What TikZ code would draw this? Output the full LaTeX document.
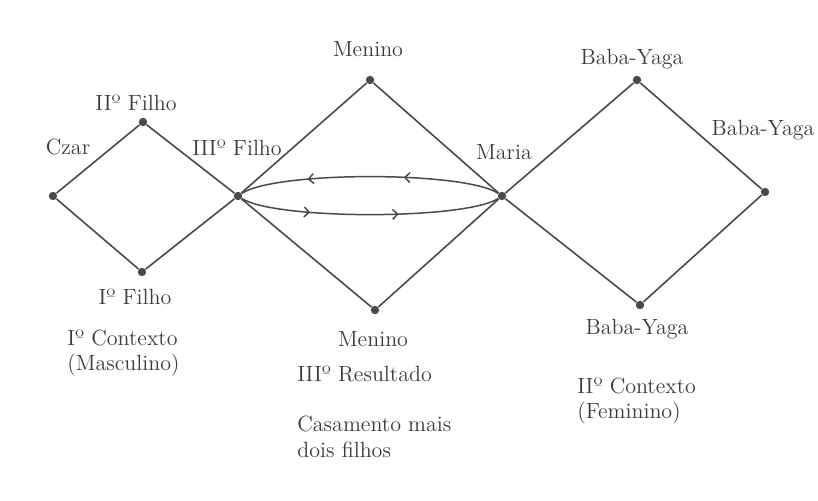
\documentclass[tikz,border=0pt]{standalone}
\usepackage{fontspec}
\usepackage{xcolor}
\usepackage{tikz}
\usetikzlibrary{arrows.meta, decorations.markings}
\definecolor{inkline}{HTML}{4A4A4A}
\definecolor{inktext}{HTML}{3A3A3A}
\tikzset{
  dotnode/.style={
    circle,
    fill=inkline,
    inner sep=0pt,
    minimum size=4.2pt
  },
  linkline/.style={
    draw=inkline,
    line width=0.8pt
  },
  namelabel/.style={
    font=\fontsize{11}{12.5}\selectfont,
    text=inktext,
    inner sep=0pt,
    anchor=base
  },
  notelabel/.style={
    font=\fontsize{11}{12.5}\selectfont,
    text=inktext,
    inner sep=0pt,
    align=left,
    anchor=north west
  },
  loopline/.style 2 args={
    draw=inkline,
    line width=0.75pt,
    postaction={decorate},
    decoration={markings,
      mark=at position #1 with {\arrow{Straight Barb[length=2.5pt,width=5pt]}},
      mark=at position #2 with {\arrow{Straight Barb[length=2.5pt,width=5pt]}}}
  }
}

\begin{document}
\begin{tikzpicture}[x=0.5pt, y=-0.5pt]
  \useasboundingbox (0,0) rectangle (818,501);

  % points
  \node[dotnode] (czar) at (53,196) {};
  \node[dotnode] (filhoII) at (143,122) {};
  \node[dotnode] (filhoI) at (142,272) {};
  \node[dotnode] (filhoIII) at (238,196) {};
  \node[dotnode] (meninoT) at (370,80) {};
  \node[dotnode] (meninoB) at (375,310) {};
  \node[dotnode] (maria) at (502,196) {};
  \node[dotnode] (babaT) at (637,80) {};
  \node[dotnode] (babaR) at (765,192) {};
  \node[dotnode] (babaB) at (640,305) {};

  % rhombi
  \foreach \a/\b in {czar/filhoII, filhoII/filhoIII, czar/filhoI, filhoI/filhoIII,
                     filhoIII/meninoT, meninoT/maria, filhoIII/meninoB, meninoB/maria,
                     maria/babaT, babaT/babaR, maria/babaB, babaB/babaR}
    \draw[linkline] (\a) -- (\b);

  % exchange between the two contexts
  \draw[loopline={0.37}{0.74}] (maria) .. controls (465,171) and (275,171) .. (filhoIII);
  \draw[loopline={0.27}{0.61}] (filhoIII) .. controls (275,220) and (465,220) .. (maria);

  % labels
  \node[namelabel] (czarlbl) at (68,155) {Czar};
  \node[namelabel] (filhoIIlbl) at (136,111) {IIº Filho};
  \node[namelabel] (filhoIIIlbl) at (237,156) {IIIº Filho};
  \node[namelabel] (meninoTlbl) at (368,57) {Menino};
  \node[namelabel] (marialbl) at (504,160) {Maria};
  \node[namelabel] (babaTlbl) at (632,65) {Baba-Yaga};
  \node[namelabel] (babaRlbl) at (763,136) {Baba-Yaga};
  \node[namelabel] (babaBlbl) at (637,335) {Baba-Yaga};
  \node[namelabel] (filhoIlbl) at (135,305) {Iº Filho};
  \node[namelabel] (meninoBlbl) at (373,347) {Menino};
  \node[namelabel, anchor=base west] (resultlbl) at (297,382) {IIIº Resultado};

  \node[notelabel] (contextoIlbl) at (67,330) {Iº Contexto\\(Masculino)};
  \node[notelabel] (contextoIIlbl) at (577,378) {IIº Contexto\\(Feminino)};
  \node[notelabel, font=\fontsize{11}{13}\selectfont] (casamentolbl) at (297,416)
    {Casamento mais\\dois filhos};
\end{tikzpicture}
\end{document}
